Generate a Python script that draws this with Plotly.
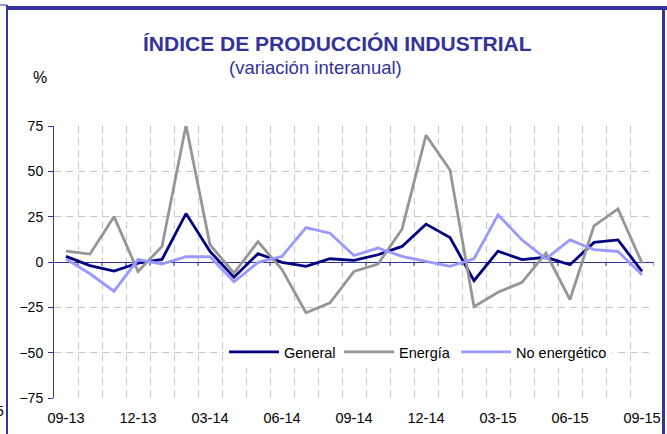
import plotly.graph_objects as go

months = ["09-13", "10-13", "11-13", "12-13", "01-14", "02-14", "03-14", "04-14",
          "05-14", "06-14", "07-14", "08-14", "09-14", "10-14", "11-14", "12-14",
          "01-15", "02-15", "03-15", "04-15", "05-15", "06-15", "07-15", "08-15", "09-15"]
general = [3.1, -2.0, -5.0, -0.6, 1.4, 26.7, 5.8, -8.4, 4.6, -0.2, -2.4, 1.8, 0.9,
           4.0, 8.6, 20.9, 13.5, -10.3, 6.0, 1.3, 2.6, -1.5, 10.8, 12.2, -5.2]
energia = [6.0, 4.4, 25.0, -5.2, 8.6, 75.4, 9.5, -6.1, 11.2, -4.2, -28.0, -22.5, -5.2,
           -1.1, 18.1, 69.9, 50.7, -24.7, -16.7, -11.2, 4.9, -20.7, 19.9, 29.3, -0.6]
no_energetico = [1.6, -6.5, -16.1, 1.3, -1.1, 2.9, 2.9, -11.0, -0.2, 3.1, 19.0, 15.9, 3.6,
                 7.7, 3.1, 0.4, -2.4, 1.8, 26.0, 12.2, 1.8, 12.2, 6.8, 5.8, -7.0]
tick_labels = months[::3]
y_ticks = [-75, -50, -25, 0, 25, 50, 75]

BLUE = "#333399"
GRID = "#c8c8c8"
FONT = "Liberation Sans, Arial, sans-serif"

W, H = 667, 434
L, R, T, B = 54, 13, 126, 36

def px(xp):
    return (xp - L) / (W - L - R)

def py(yp):
    return (H - B - yp) / (H - T - B)

x = list(range(len(months)))
y_min, y_max = -75, 75
fig = go.Figure()

# small tick marks below the zero line, between categories
bounds = [i + 0.5 for i in range(len(months))]
tick_len_units = 4 * (y_max - y_min) / (H - T - B)
fig.add_trace(go.Scatter(x=bounds, y=[0] * len(bounds), mode="markers",
                         marker=dict(size=1, color="rgba(0,0,0,0)"),
                         error_y=dict(type="constant", value=0, valueminus=tick_len_units,
                                      symmetric=False, width=0, color=BLUE, thickness=1),
                         showlegend=False, hoverinfo="skip"))

series = [("General", general, "#000080", "legend", 224),
          ("Energía", energia, "#969696", "legend2", 339),
          ("No energético", no_energetico, "#9999FF", "legend3", 456)]
legend_layout = {}
for name, vals, col, lg, lx in series:
    fig.add_trace(go.Scatter(x=x, y=vals, name=name, mode="lines", legend=lg,
                             line=dict(color=col, width=2.8)))
    legend_layout[lg] = dict(orientation="h", x=px(lx), y=py(352), xanchor="left",
                             yanchor="middle", bgcolor="white", itemwidth=50,
                             font=dict(size=14.5, color="black", family=FONT))

fig.update_layout(
    width=W, height=H,
    margin=dict(l=L, r=R, t=T, b=B, autoexpand=False),
    paper_bgcolor="white", plot_bgcolor="white",
    font=dict(family=FONT, size=14, color="black"),
    showlegend=True,
    xaxis=dict(range=[-0.5, len(months) - 0.5], tickmode="array",
               tickvals=x[::3], ticktext=tick_labels, showgrid=False,
               zeroline=False, showline=False, ticks="", ticklabelstandoff=9,
               tickfont=dict(size=14.5), automargin=False,
               minor=dict(tick0=-0.5, dtick=1, showgrid=True, gridcolor=GRID,
                          griddash="7px,5px", gridwidth=1, ticks="")),
    yaxis=dict(range=[y_min, y_max], tickmode="array", tickvals=y_ticks,
               showgrid=True, gridcolor=GRID, griddash="7px,5px", gridwidth=1,
               zeroline=True, zerolinecolor=BLUE, zerolinewidth=1,
               showline=True, linecolor=BLUE, linewidth=1,
               ticks="outside", ticklen=5, tickcolor=BLUE, ticklabelstandoff=2,
               tickfont=dict(size=14), automargin=False),
    **legend_layout,
)

fig.add_annotation(text="<b>ÍNDICE DE PRODUCCIÓN INDUSTRIAL</b>", xref="paper", yref="paper",
                   x=px(337), y=py(44), xanchor="center", yanchor="middle", showarrow=False,
                   font=dict(size=21, color=BLUE, family=FONT))
fig.add_annotation(text="(variación interanual)", xref="paper", yref="paper",
                   x=px(315), y=py(67), xanchor="center", yanchor="middle", showarrow=False,
                   font=dict(size=18.5, color=BLUE, family=FONT))
fig.add_annotation(text="%", xref="paper", yref="paper",
                   x=px(40), y=py(78), xanchor="center", yanchor="middle", showarrow=False,
                   font=dict(size=16, color="black", family=FONT))
fig.add_annotation(text="5", xref="paper", yref="paper",
                   x=px(6), y=py(411), xanchor="right", yanchor="middle", showarrow=False,
                   font=dict(size=14, color="black", family=FONT))

frame = [
    (0, 5, 7, 5, 1),
    (8, 8, 667, 8, 4),
    (7, 5, 7, 434, 2),
    (663.5, 8, 663.5, 434, 3),
]
for x0, y0, x1, y1, w in frame:
    fig.add_shape(type="line", xref="paper", yref="paper",
                  x0=px(x0), y0=py(y0), x1=px(x1), y1=py(y1),
                  line=dict(color=BLUE, width=w))

fig.write_html("out.html", config={"displayModeBar": False},
               post_script="document.body.style.margin='0';")
